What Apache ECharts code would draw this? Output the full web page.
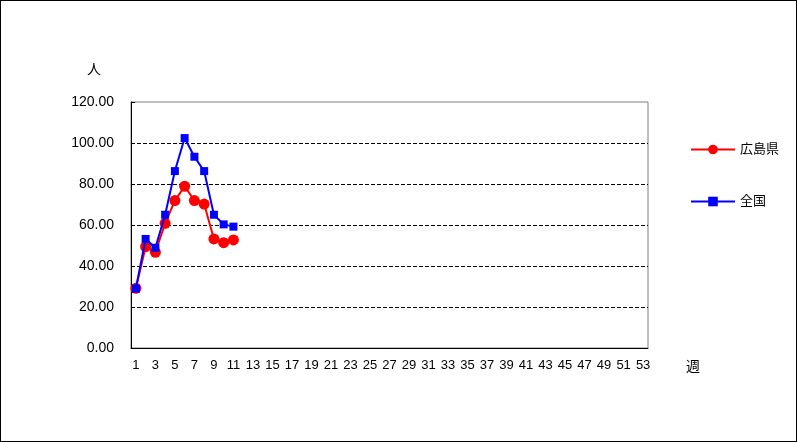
<!DOCTYPE html>
<html>
<head>
<meta charset="utf-8">
<script src="https://cdn.jsdelivr.net/npm/echarts@6/dist/echarts.min.js"></script>
<style>
  html, body { margin: 0; padding: 0; background: #fff; }
  #chart { width: 797px; height: 442px; box-sizing: border-box; border: 1px solid #000; }
</style>
</head>
<body>
<div id="chart"></div>
<script>
  // weeks 1..53
  var weeks = []
  for (var w = 1; w <= 53; w++) weeks.push(String(w))

  var hiroshima = [29.1, 49.4, 46.7, 60.8, 71.9, 78.9, 71.9, 70.2, 53.2, 51.4, 52.7]
  var zenkoku = [29.0, 53.2, 48.9, 65.0, 86.3, 102.4, 93.3, 86.3, 65.0, 60.3, 59.2]

  var font = '"Liberation Sans", "Noto Sans CJK JP", sans-serif'

  var chart = echarts.init(document.getElementById('chart'))
  chart.setOption({
    animation: false,
    textStyle: { fontFamily: font },
    grid: {
      left: 130,
      right: 148,
      top: 101,
      bottom: 93,
      show: true,
      borderColor: '#808080',
      borderWidth: 1
    },
    legend: {
      orient: 'vertical',
      left: 684,
      top: 137,
      itemGap: 39,
      itemWidth: 44,
      itemHeight: 12,
      textStyle: { fontSize: 13, color: '#000', fontFamily: font },
      data: ['広島県', '全国']
    },
    xAxis: {
      type: 'category',
      data: weeks,
      boundaryGap: true,
      name: '週',
      nameLocation: 'end',
      nameGap: 38,
      nameTextStyle: { fontSize: 14, color: '#000', verticalAlign: 'top', padding: [12, 0, 0, 0] },
      axisLine: { lineStyle: { color: '#000', width: 1 } },
      axisTick: { inside: true, length: 4, interval: 0, lineStyle: { color: '#000' } },
      axisLabel: { interval: 1, color: '#000', fontSize: 13, margin: 11 },
      splitLine: { show: false }
    },
    yAxis: {
      type: 'value',
      min: 0,
      max: 120,
      interval: 20,
      name: '人',
      nameLocation: 'end',
      nameGap: 25,
      nameTextStyle: { fontSize: 14, color: '#000', align: 'right', padding: [0, 30, 0, 0] },
      axisLine: { show: true, lineStyle: { color: '#000', width: 1 } },
      axisTick: { show: true, length: 4, inside: true, lineStyle: { color: '#000' } },
      axisLabel: {
        color: '#000',
        fontSize: 14,
        margin: 17,
        formatter: function (v) { return v.toFixed(2) }
      },
      splitLine: { show: true, showMaxLine: false, lineStyle: { color: '#000', type: 'dashed', width: 1 } }
    },
    series: [
      {
        name: '広島県',
        type: 'line',
        data: hiroshima,
        symbol: 'circle',
        symbolSize: 11,
        showAllSymbol: true,
        z: 2,
        itemStyle: { color: '#ff0000' },
        lineStyle: { color: '#ff0000', width: 2 }
      },
      {
        name: '全国',
        type: 'line',
        data: zenkoku,
        symbol: 'rect',
        symbolSize: 8,
        showAllSymbol: true,
        z: 3,
        itemStyle: { color: '#0000ff' },
        lineStyle: { color: '#0000ff', width: 2 }
      }
    ]
  })
</script>
</body>
</html>
